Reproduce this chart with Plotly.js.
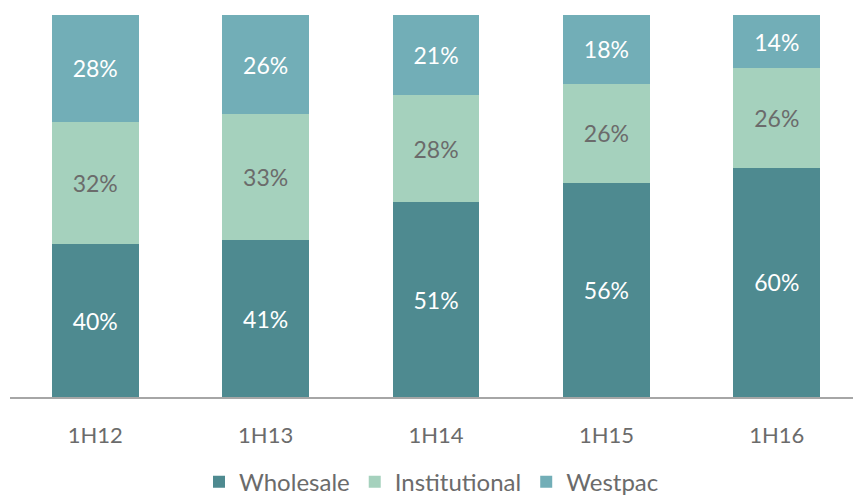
<!DOCTYPE html>
<html>
<head>
<meta charset="utf-8">
<script src="https://cdn.plot.ly/plotly-3.0.1.min.js"></script>
<style>html,body{margin:0;padding:0;background:#fff;overflow:hidden}</style>
</head>
<body>
<div id="chart" style="width:853px;height:498px"></div>
<script>
var categories = ["1H12", "1H13", "1H14", "1H15", "1H16"];
var wholesale = [40, 41, 51, 56, 60];
var institutional = [32, 33, 28, 26, 26];
var westpac = [28, 26, 21, 18, 14];

function lbl(arr){ return arr.map(function(v){ return v + "%"; }); }

var fontFam = "Lato, 'Open Sans', sans-serif";
var common = {
  type: "bar",
  x: categories,
  width: 0.51,
  textposition: "inside",
  insidetextanchor: "middle",
  constraintext: "none",
  hoverinfo: "skip"
};

var traces = [
  Object.assign({}, common, {name: "Wholesale", y: wholesale, text: lbl(wholesale),
    marker: {color: "#4E8A90", line: {width: 0}}, textfont: {family: fontFam, size: 23, color: "#ffffff"}}),
  Object.assign({}, common, {name: "Institutional", y: institutional, text: lbl(institutional),
    marker: {color: "#A5D1BD", line: {width: 0}}, textfont: {family: fontFam, size: 23, color: "#6b6b6b"}}),
  Object.assign({}, common, {name: "Westpac", y: westpac, text: lbl(westpac),
    marker: {color: "#72AEB7", line: {width: 0}}, textfont: {family: fontFam, size: 23, color: "#ffffff"}})
];

var layout = {
  width: 853, height: 498,
  margin: {l: 10, r: 0, t: 14.5, b: 100.5, pad: 0},
  barmode: "stack",
  paper_bgcolor: "#ffffff",
  plot_bgcolor: "#ffffff",
  font: {family: fontFam, color: "#6b6b6b", size: 22},
  showlegend: true,
  xaxis: {
    type: "category",
    range: [-0.5, 4.447],
    showline: true, linecolor: "#a6a6a6", linewidth: 1.5,
    showgrid: false, zeroline: false,
    ticks: "", ticklabelstandoff: 18,
    tickfont: {family: fontFam, size: 22, color: "#6b6b6b"},
    automargin: false,
    fixedrange: true
  },
  yaxis: {
    range: [0, 100], visible: false, showgrid: false, zeroline: false, fixedrange: true
  },
  legend: {
    orientation: "h", x: 0.5, xanchor: "center",
    yref: "container", y: 0.032, yanchor: "middle",
    traceorder: "normal",
    font: {family: fontFam, size: 24, color: "#6b6b6b"},
    itemwidth: 30
  }
};

Plotly.newPlot("chart", traces, layout, {displayModeBar: false, staticPlot: true});
</script>
</body>
</html>
